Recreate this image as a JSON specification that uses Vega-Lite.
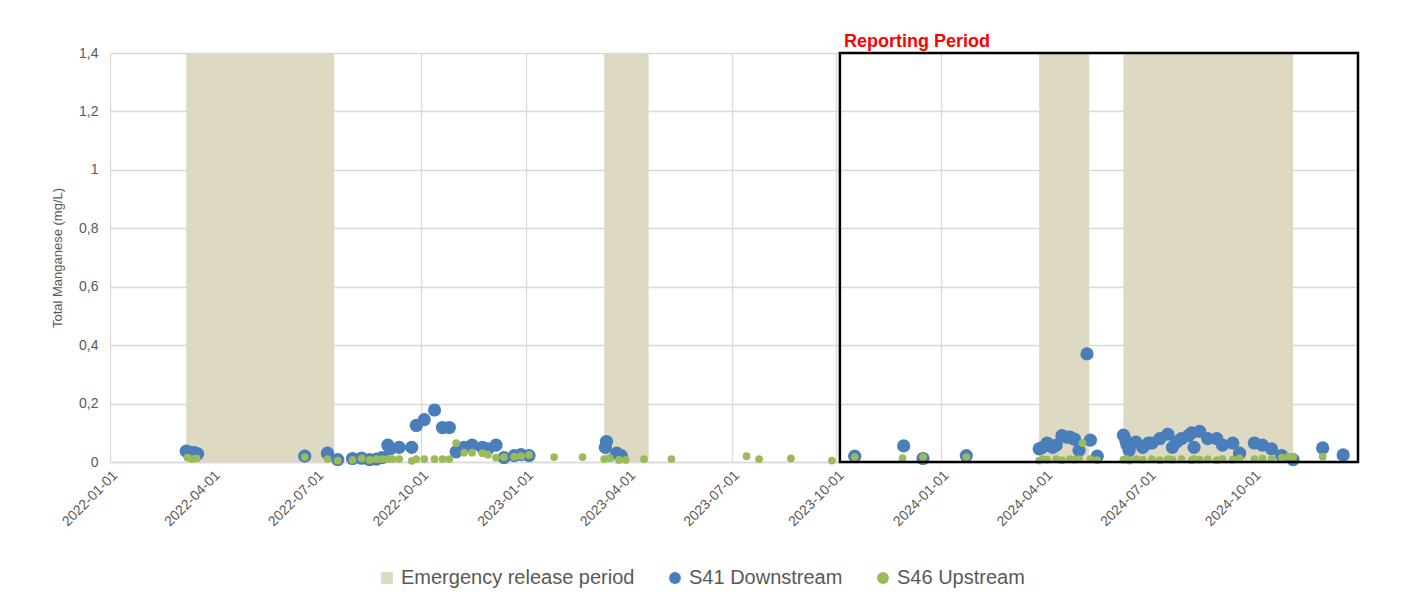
{
  "$schema": "https://vega.github.io/schema/vega-lite/v6.json",
  "autosize": {"type": "none"},
  "width": 1248,
  "height": 409,
  "padding": {"left": 110, "top": 53, "right": 45, "bottom": 142},
  "background": "white",
  "config": {
    "view": {"stroke": null},
    "font": "Liberation Sans",
    "axis": {"labelColor": "#595959", "titleColor": "#595959", "gridColor": "#D9D9D9", "gridWidth": 1.3, "ticks": false, "labelFont": "Liberation Sans", "titleFont": "Liberation Sans"},
    "legend": {"labelFont": "Liberation Sans"}
  },
  "datasets": {
    "emergency": [
      {"start": "2022-03-09", "end": "2022-07-17", "series": "Emergency release period"},
      {"start": "2023-03-11", "end": "2023-04-19", "series": "Emergency release period"},
      {"start": "2024-03-27", "end": "2024-05-10", "series": "Emergency release period"},
      {"start": "2024-06-09", "end": "2024-11-05", "series": "Emergency release period"}
    ],
    "report": [
      {"start": "2023-10-04", "end": "2025-01-01", "low": 0, "high": 1.4, "label": "Reporting Period"}
    ],
    "samples": [
      {"date": "2022-03-09", "value": 0.037, "series": "S41 Downstream"},
      {"date": "2022-03-12", "value": 0.033, "series": "S41 Downstream"},
      {"date": "2022-03-16", "value": 0.032, "series": "S41 Downstream"},
      {"date": "2022-03-19", "value": 0.028, "series": "S41 Downstream"},
      {"date": "2022-06-21", "value": 0.02, "series": "S41 Downstream"},
      {"date": "2022-07-11", "value": 0.03, "series": "S41 Downstream"},
      {"date": "2022-07-20", "value": 0.008, "series": "S41 Downstream"},
      {"date": "2022-08-02", "value": 0.012, "series": "S41 Downstream"},
      {"date": "2022-08-10", "value": 0.013, "series": "S41 Downstream"},
      {"date": "2022-08-17", "value": 0.008, "series": "S41 Downstream"},
      {"date": "2022-08-23", "value": 0.01, "series": "S41 Downstream"},
      {"date": "2022-08-28", "value": 0.015, "series": "S41 Downstream"},
      {"date": "2022-09-02", "value": 0.058, "series": "S41 Downstream"},
      {"date": "2022-09-04", "value": 0.045, "series": "S41 Downstream"},
      {"date": "2022-09-12", "value": 0.05, "series": "S41 Downstream"},
      {"date": "2022-09-23", "value": 0.05, "series": "S41 Downstream"},
      {"date": "2022-09-27", "value": 0.125, "series": "S41 Downstream"},
      {"date": "2022-10-04", "value": 0.145, "series": "S41 Downstream"},
      {"date": "2022-10-13", "value": 0.178, "series": "S41 Downstream"},
      {"date": "2022-10-20", "value": 0.118, "series": "S41 Downstream"},
      {"date": "2022-10-26", "value": 0.118, "series": "S41 Downstream"},
      {"date": "2022-11-01", "value": 0.035, "series": "S41 Downstream"},
      {"date": "2022-11-08", "value": 0.05, "series": "S41 Downstream"},
      {"date": "2022-11-15", "value": 0.058, "series": "S41 Downstream"},
      {"date": "2022-11-24", "value": 0.05, "series": "S41 Downstream"},
      {"date": "2022-11-29", "value": 0.045, "series": "S41 Downstream"},
      {"date": "2022-12-06", "value": 0.058, "series": "S41 Downstream"},
      {"date": "2022-12-13", "value": 0.015, "series": "S41 Downstream"},
      {"date": "2022-12-22", "value": 0.022, "series": "S41 Downstream"},
      {"date": "2022-12-28", "value": 0.025, "series": "S41 Downstream"},
      {"date": "2023-01-04", "value": 0.022, "series": "S41 Downstream"},
      {"date": "2023-03-12", "value": 0.05, "series": "S41 Downstream"},
      {"date": "2023-03-13", "value": 0.07, "series": "S41 Downstream"},
      {"date": "2023-03-22", "value": 0.03, "series": "S41 Downstream"},
      {"date": "2023-03-26", "value": 0.022, "series": "S41 Downstream"},
      {"date": "2023-10-17", "value": 0.02, "series": "S41 Downstream"},
      {"date": "2023-11-29", "value": 0.055, "series": "S41 Downstream"},
      {"date": "2023-12-16", "value": 0.012, "series": "S41 Downstream"},
      {"date": "2024-01-23", "value": 0.022, "series": "S41 Downstream"},
      {"date": "2024-03-27", "value": 0.045, "series": "S41 Downstream"},
      {"date": "2024-03-30", "value": 0.05, "series": "S41 Downstream"},
      {"date": "2024-04-03", "value": 0.065, "series": "S41 Downstream"},
      {"date": "2024-04-08", "value": 0.05, "series": "S41 Downstream"},
      {"date": "2024-04-11", "value": 0.058, "series": "S41 Downstream"},
      {"date": "2024-04-16", "value": 0.09, "series": "S41 Downstream"},
      {"date": "2024-04-20", "value": 0.085, "series": "S41 Downstream"},
      {"date": "2024-04-23", "value": 0.085, "series": "S41 Downstream"},
      {"date": "2024-04-27", "value": 0.078, "series": "S41 Downstream"},
      {"date": "2024-05-01", "value": 0.04, "series": "S41 Downstream"},
      {"date": "2024-05-08", "value": 0.37, "series": "S41 Downstream"},
      {"date": "2024-05-11", "value": 0.075, "series": "S41 Downstream"},
      {"date": "2024-05-17", "value": 0.02, "series": "S41 Downstream"},
      {"date": "2024-06-09", "value": 0.092, "series": "S41 Downstream"},
      {"date": "2024-06-11", "value": 0.075, "series": "S41 Downstream"},
      {"date": "2024-06-12", "value": 0.06, "series": "S41 Downstream"},
      {"date": "2024-06-14", "value": 0.04, "series": "S41 Downstream"},
      {"date": "2024-06-20", "value": 0.068, "series": "S41 Downstream"},
      {"date": "2024-06-26", "value": 0.05, "series": "S41 Downstream"},
      {"date": "2024-07-01", "value": 0.065, "series": "S41 Downstream"},
      {"date": "2024-07-04", "value": 0.065, "series": "S41 Downstream"},
      {"date": "2024-07-11", "value": 0.08, "series": "S41 Downstream"},
      {"date": "2024-07-18", "value": 0.095, "series": "S41 Downstream"},
      {"date": "2024-07-22", "value": 0.05, "series": "S41 Downstream"},
      {"date": "2024-07-26", "value": 0.07, "series": "S41 Downstream"},
      {"date": "2024-07-30", "value": 0.08, "series": "S41 Downstream"},
      {"date": "2024-08-05", "value": 0.09, "series": "S41 Downstream"},
      {"date": "2024-08-08", "value": 0.1, "series": "S41 Downstream"},
      {"date": "2024-08-10", "value": 0.05, "series": "S41 Downstream"},
      {"date": "2024-08-15", "value": 0.105, "series": "S41 Downstream"},
      {"date": "2024-08-22", "value": 0.08, "series": "S41 Downstream"},
      {"date": "2024-08-30", "value": 0.08, "series": "S41 Downstream"},
      {"date": "2024-09-04", "value": 0.058, "series": "S41 Downstream"},
      {"date": "2024-09-13", "value": 0.065, "series": "S41 Downstream"},
      {"date": "2024-09-19", "value": 0.03, "series": "S41 Downstream"},
      {"date": "2024-10-02", "value": 0.065, "series": "S41 Downstream"},
      {"date": "2024-10-09", "value": 0.058, "series": "S41 Downstream"},
      {"date": "2024-10-17", "value": 0.045, "series": "S41 Downstream"},
      {"date": "2024-10-26", "value": 0.022, "series": "S41 Downstream"},
      {"date": "2024-11-05", "value": 0.008, "series": "S41 Downstream"},
      {"date": "2024-12-01", "value": 0.048, "series": "S41 Downstream"},
      {"date": "2024-12-19", "value": 0.024, "series": "S41 Downstream"},
      {"date": "2022-03-10", "value": 0.015, "series": "S46 Upstream"},
      {"date": "2022-03-14", "value": 0.01, "series": "S46 Upstream"},
      {"date": "2022-03-18", "value": 0.012, "series": "S46 Upstream"},
      {"date": "2022-06-21", "value": 0.017, "series": "S46 Upstream"},
      {"date": "2022-07-11", "value": 0.01, "series": "S46 Upstream"},
      {"date": "2022-07-20", "value": 0.005, "series": "S46 Upstream"},
      {"date": "2022-08-02", "value": 0.007, "series": "S46 Upstream"},
      {"date": "2022-08-10", "value": 0.012, "series": "S46 Upstream"},
      {"date": "2022-08-17", "value": 0.007, "series": "S46 Upstream"},
      {"date": "2022-08-23", "value": 0.01, "series": "S46 Upstream"},
      {"date": "2022-08-28", "value": 0.01, "series": "S46 Upstream"},
      {"date": "2022-09-02", "value": 0.01, "series": "S46 Upstream"},
      {"date": "2022-09-06", "value": 0.01, "series": "S46 Upstream"},
      {"date": "2022-09-12", "value": 0.01, "series": "S46 Upstream"},
      {"date": "2022-09-23", "value": 0.004, "series": "S46 Upstream"},
      {"date": "2022-09-27", "value": 0.01, "series": "S46 Upstream"},
      {"date": "2022-10-04", "value": 0.01, "series": "S46 Upstream"},
      {"date": "2022-10-13", "value": 0.01, "series": "S46 Upstream"},
      {"date": "2022-10-20", "value": 0.01, "series": "S46 Upstream"},
      {"date": "2022-10-26", "value": 0.01, "series": "S46 Upstream"},
      {"date": "2022-11-01", "value": 0.065, "series": "S46 Upstream"},
      {"date": "2022-11-08", "value": 0.032, "series": "S46 Upstream"},
      {"date": "2022-11-15", "value": 0.032, "series": "S46 Upstream"},
      {"date": "2022-11-24", "value": 0.03, "series": "S46 Upstream"},
      {"date": "2022-11-29", "value": 0.025, "series": "S46 Upstream"},
      {"date": "2022-12-06", "value": 0.015, "series": "S46 Upstream"},
      {"date": "2022-12-13", "value": 0.017, "series": "S46 Upstream"},
      {"date": "2022-12-22", "value": 0.018, "series": "S46 Upstream"},
      {"date": "2022-12-28", "value": 0.02, "series": "S46 Upstream"},
      {"date": "2023-01-04", "value": 0.024, "series": "S46 Upstream"},
      {"date": "2023-01-26", "value": 0.017, "series": "S46 Upstream"},
      {"date": "2023-02-20", "value": 0.017, "series": "S46 Upstream"},
      {"date": "2023-03-11", "value": 0.01, "series": "S46 Upstream"},
      {"date": "2023-03-16", "value": 0.013, "series": "S46 Upstream"},
      {"date": "2023-03-24", "value": 0.007, "series": "S46 Upstream"},
      {"date": "2023-03-30", "value": 0.007, "series": "S46 Upstream"},
      {"date": "2023-04-15", "value": 0.01, "series": "S46 Upstream"},
      {"date": "2023-05-09", "value": 0.01, "series": "S46 Upstream"},
      {"date": "2023-07-14", "value": 0.02, "series": "S46 Upstream"},
      {"date": "2023-07-25", "value": 0.01, "series": "S46 Upstream"},
      {"date": "2023-08-22", "value": 0.012, "series": "S46 Upstream"},
      {"date": "2023-09-27", "value": 0.005, "series": "S46 Upstream"},
      {"date": "2023-10-17", "value": 0.017, "series": "S46 Upstream"},
      {"date": "2023-11-28", "value": 0.013, "series": "S46 Upstream"},
      {"date": "2023-12-16", "value": 0.017, "series": "S46 Upstream"},
      {"date": "2024-01-23", "value": 0.017, "series": "S46 Upstream"},
      {"date": "2024-03-27", "value": 0.005, "series": "S46 Upstream"},
      {"date": "2024-03-30", "value": 0.01, "series": "S46 Upstream"},
      {"date": "2024-04-03", "value": 0.008, "series": "S46 Upstream"},
      {"date": "2024-04-11", "value": 0.01, "series": "S46 Upstream"},
      {"date": "2024-04-16", "value": 0.006, "series": "S46 Upstream"},
      {"date": "2024-04-23", "value": 0.01, "series": "S46 Upstream"},
      {"date": "2024-04-27", "value": 0.008, "series": "S46 Upstream"},
      {"date": "2024-05-01", "value": 0.01, "series": "S46 Upstream"},
      {"date": "2024-05-04", "value": 0.065, "series": "S46 Upstream"},
      {"date": "2024-05-11", "value": 0.01, "series": "S46 Upstream"},
      {"date": "2024-05-17", "value": 0.006, "series": "S46 Upstream"},
      {"date": "2024-06-09", "value": 0.008, "series": "S46 Upstream"},
      {"date": "2024-06-12", "value": 0.01, "series": "S46 Upstream"},
      {"date": "2024-06-14", "value": 0.005, "series": "S46 Upstream"},
      {"date": "2024-06-20", "value": 0.01, "series": "S46 Upstream"},
      {"date": "2024-06-26", "value": 0.008, "series": "S46 Upstream"},
      {"date": "2024-07-04", "value": 0.01, "series": "S46 Upstream"},
      {"date": "2024-07-11", "value": 0.006, "series": "S46 Upstream"},
      {"date": "2024-07-18", "value": 0.01, "series": "S46 Upstream"},
      {"date": "2024-07-22", "value": 0.008, "series": "S46 Upstream"},
      {"date": "2024-07-30", "value": 0.01, "series": "S46 Upstream"},
      {"date": "2024-08-08", "value": 0.006, "series": "S46 Upstream"},
      {"date": "2024-08-10", "value": 0.01, "series": "S46 Upstream"},
      {"date": "2024-08-15", "value": 0.008, "series": "S46 Upstream"},
      {"date": "2024-08-22", "value": 0.01, "series": "S46 Upstream"},
      {"date": "2024-08-30", "value": 0.006, "series": "S46 Upstream"},
      {"date": "2024-09-04", "value": 0.01, "series": "S46 Upstream"},
      {"date": "2024-09-13", "value": 0.008, "series": "S46 Upstream"},
      {"date": "2024-09-19", "value": 0.012, "series": "S46 Upstream"},
      {"date": "2024-10-02", "value": 0.01, "series": "S46 Upstream"},
      {"date": "2024-10-09", "value": 0.012, "series": "S46 Upstream"},
      {"date": "2024-10-17", "value": 0.01, "series": "S46 Upstream"},
      {"date": "2024-10-26", "value": 0.015, "series": "S46 Upstream"},
      {"date": "2024-11-01", "value": 0.018, "series": "S46 Upstream"},
      {"date": "2024-11-05", "value": 0.018, "series": "S46 Upstream"},
      {"date": "2024-12-01", "value": 0.018, "series": "S46 Upstream"}
    ]
  },
  "layer": [
    {
      "data": {"name": "emergency"},
      "mark": {"type": "rect"},
      "encoding": {
        "x": {
          "field": "start", "type": "temporal",
          "scale": {"type": "utc", "domain": [{"year": 2022, "month": 1, "date": 1, "utc": true}, {"year": 2025, "month": 1, "date": 1, "utc": true}], "nice": false},
          "axis": {
            "title": null,
            "format": "%Y-%m-%d",
            "labelAngle": -45,
            "labelFontSize": 14,
            "labelPadding": 6,
            "domainColor": "#D9D9D9",
            "domainWidth": 1.5,
            "grid": true,
            "labelOverlap": false,
            "values": [
              {"year": 2022, "month": 1, "date": 1, "utc": true},
              {"year": 2022, "month": 4, "date": 1, "utc": true},
              {"year": 2022, "month": 7, "date": 1, "utc": true},
              {"year": 2022, "month": 10, "date": 1, "utc": true},
              {"year": 2023, "month": 1, "date": 1, "utc": true},
              {"year": 2023, "month": 4, "date": 1, "utc": true},
              {"year": 2023, "month": 7, "date": 1, "utc": true},
              {"year": 2023, "month": 10, "date": 1, "utc": true},
              {"year": 2024, "month": 1, "date": 1, "utc": true},
              {"year": 2024, "month": 4, "date": 1, "utc": true},
              {"year": 2024, "month": 7, "date": 1, "utc": true},
              {"year": 2024, "month": 10, "date": 1, "utc": true}
            ]
          }
        },
        "x2": {"field": "end"},
        "y": {
          "datum": 0, "type": "quantitative",
          "scale": {"domain": [0, 1.4], "nice": false, "zero": true},
          "axis": {
            "title": "Total Manganese (mg/L)",
            "titleFontSize": 13,
            "titleFontWeight": "normal",
            "titlePadding": 14,
            "labelFontSize": 14,
            "labelPadding": 12,
            "domain": false,
            "grid": true,
            "values": [0, 0.2, 0.4, 0.6, 0.8, 1, 1.2, 1.4],
            "labelExpr": "replace(format(datum.value, '~g'), '.', ',')"
          }
        },
        "y2": {"datum": 1.4},
        "color": {
          "field": "series", "type": "nominal",
          "scale": {"domain": ["Emergency release period", "S41 Downstream", "S46 Upstream"], "range": ["#DDD9C3", "#4A7EBB", "#9BBB59"]},
          "legend": {
            "title": null, "orient": "none", "legendX": 267, "legendY": 515, "direction": "horizontal",
            "labelFontSize": 20, "labelColor": "#595959", "labelLimit": 400, "columnPadding": 30, "labelOffset": 4, "symbolStrokeWidth": 0, "symbolSize": 140
          }
        }
      }
    },
    {
      "data": {"name": "samples"},
      "transform": [{"filter": "datum.series == 'S41 Downstream'"}],
      "mark": {"type": "point", "filled": true, "opacity": 1, "strokeWidth": 0, "size": 175},
      "encoding": {
        "x": {"field": "date", "type": "temporal"},
        "y": {"field": "value", "type": "quantitative"},
        "color": {"field": "series", "type": "nominal"},
        "shape": {
          "field": "series", "type": "nominal",
          "scale": {"domain": ["Emergency release period", "S41 Downstream", "S46 Upstream"], "range": ["square", "circle", "circle"]},
          "legend": {
            "title": null, "orient": "none", "legendX": 267, "legendY": 515, "direction": "horizontal",
            "labelFontSize": 20, "labelColor": "#595959", "labelLimit": 400, "columnPadding": 30, "labelOffset": 4, "symbolStrokeWidth": 0, "symbolSize": 140
          }
        }
      }
    },
    {
      "data": {"name": "samples"},
      "transform": [{"filter": "datum.series == 'S46 Upstream'"}],
      "mark": {"type": "point", "filled": true, "opacity": 1, "strokeWidth": 0, "size": 60},
      "encoding": {
        "x": {"field": "date", "type": "temporal"},
        "y": {"field": "value", "type": "quantitative"},
        "color": {"field": "series", "type": "nominal"},
        "shape": {"field": "series", "type": "nominal"}
      }
    },
    {
      "data": {"name": "report"},
      "mark": {"type": "rect", "fill": "transparent", "stroke": "#000000", "strokeWidth": 2.5},
      "encoding": {
        "x": {"field": "start", "type": "temporal"},
        "x2": {"field": "end"},
        "y": {"field": "low", "type": "quantitative"},
        "y2": {"field": "high"}
      }
    },
    {
      "data": {"name": "report"},
      "mark": {"type": "text", "align": "left", "baseline": "alphabetic", "dx": 4, "dy": -6, "font": "Liberation Sans", "fontWeight": "bold", "fontSize": 18, "color": "#FF0000"},
      "encoding": {
        "x": {"field": "start", "type": "temporal"},
        "y": {"field": "high", "type": "quantitative"},
        "text": {"field": "label"}
      }
    }
  ]
}
